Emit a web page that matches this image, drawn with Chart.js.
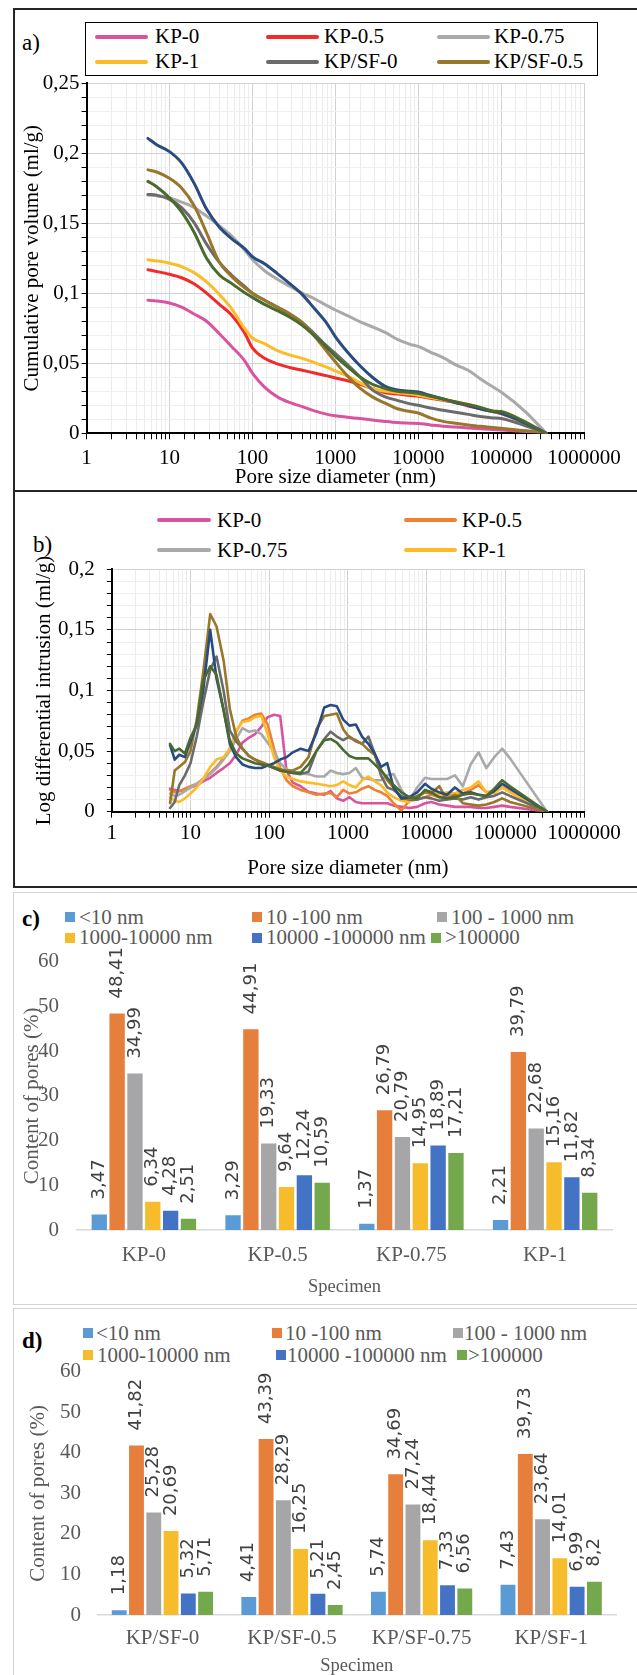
<!DOCTYPE html>
<html>
<head>
<meta charset="utf-8">
<script src="https://cdn.jsdelivr.net/npm/chart.js@4.4.1/dist/chart.umd.min.js"></script>
<style>
  html, body { margin: 0; padding: 0; background: #fff; }
  body { width: 637px; height: 1675px; position: relative; overflow: hidden; font-family: 'Liberation Serif', serif; }
  .frame { position: absolute; box-sizing: border-box; }
  canvas { position: absolute; left: 0; }
  .tag { position: absolute; font-size: 23px; line-height: 1; color: #000; }
  .lg { position: absolute; font-size: 21px; line-height: 1; white-space: nowrap; }
  .ln { position: absolute; height: 4px; border-radius: 2px; }
  .sq { position: absolute; width: 10px; height: 10px; }
</style>
</head>
<body>

<!-- panel frames -->
<div class="frame" style="left:13px; top:8px; width:640px; height:484px; border:2px solid #262626;"></div>
<div class="frame" style="left:13px; top:490px; width:640px; height:398px; border:2px solid #262626;"></div>
<div class="frame" style="left:13px; top:892px; width:640px; height:413px; border:1.5px solid #d4d4d4;"></div>
<div class="frame" style="left:13px; top:1308px; width:640px; height:380px; border:1.5px solid #d4d4d4;"></div>

<!-- panel a legend -->
<div class="tag" style="left:22px; top:31px;">a)</div>
<div class="frame" style="left:85px; top:22px; width:513px; height:54px; border:1.5px solid #000;"></div>
<div class="ln" style="left:95px; width:53px; top:34.5px; background:#D9539F;"></div>
<div class="lg" style="left:155px; top:26px;">KP-0</div>
<div class="ln" style="left:266px; width:53px; top:34.5px; background:#F32A2A;"></div>
<div class="lg" style="left:324px; top:26px;">KP-0.5</div>
<div class="ln" style="left:437px; width:53px; top:34.5px; background:#A9A9A9;"></div>
<div class="lg" style="left:494px; top:26px;">KP-0.75</div>
<div class="ln" style="left:95px; width:53px; top:59.5px; background:#FBBC27;"></div>
<div class="lg" style="left:155px; top:51px;">KP-1</div>
<div class="ln" style="left:266px; width:53px; top:59.5px; background:#6B6B6B;"></div>
<div class="lg" style="left:324px; top:51px;">KP/SF-0</div>
<div class="ln" style="left:437px; width:53px; top:59.5px; background:#98762A;"></div>
<div class="lg" style="left:494px; top:51px;">KP/SF-0.5</div>

<!-- panel b legend -->
<div class="tag" style="left:33px; top:533px;">b)</div>
<div class="ln" style="left:157px; width:54px; top:518px; background:#D9539F;"></div>
<div class="lg" style="left:217px; top:509.5px;">KP-0</div>
<div class="ln" style="left:404px; width:53px; top:518px; background:#F08133;"></div>
<div class="lg" style="left:462px; top:509.5px;">KP-0.5</div>
<div class="ln" style="left:157px; width:54px; top:548px; background:#A9A9A9;"></div>
<div class="lg" style="left:217px; top:539.5px;">KP-0.75</div>
<div class="ln" style="left:404px; width:53px; top:548px; background:#FBBC27;"></div>
<div class="lg" style="left:462px; top:539.5px;">KP-1</div>

<!-- panel c legend -->
<div class="tag" style="left:22px; top:907px; font-weight:bold;">c)</div>
<div class="sq" style="left:65px; top:912px; background:#5B9BD5;"></div>
<div class="lg" style="left:79px; top:906.5px; color:#595959;">&lt;10 nm</div>
<div class="sq" style="left:252px; top:912px; background:#E67E3C;"></div>
<div class="lg" style="left:266px; top:906.5px; color:#595959;">10 -100 nm</div>
<div class="sq" style="left:437px; top:912px; background:#A6A6A8;"></div>
<div class="lg" style="left:451px; top:906.5px; color:#595959;">100 - 1000 nm</div>
<div class="sq" style="left:65px; top:933px; background:#F6BC2C;"></div>
<div class="lg" style="left:79px; top:927px; color:#595959;">1000-10000 nm</div>
<div class="sq" style="left:252px; top:933px; background:#4472C4;"></div>
<div class="lg" style="left:266px; top:927px; color:#595959;">10000 -100000 nm</div>
<div class="sq" style="left:431px; top:933px; background:#74A84C;"></div>
<div class="lg" style="left:445px; top:927px; color:#595959;">&gt;100000</div>

<!-- panel d legend -->
<div class="tag" style="left:22px; top:1329px; font-weight:bold;">d)</div>
<div class="sq" style="left:83px; top:1328px; background:#5B9BD5;"></div>
<div class="lg" style="left:96px; top:1322.5px; color:#595959;">&lt;10 nm</div>
<div class="sq" style="left:272px; top:1328px; background:#E67E3C;"></div>
<div class="lg" style="left:285px; top:1322.5px; color:#595959;">10 -100 nm</div>
<div class="sq" style="left:453px; top:1328px; background:#A6A6A8;"></div>
<div class="lg" style="left:464px; top:1322.5px; color:#595959;">100 - 1000 nm</div>
<div class="sq" style="left:83px; top:1350px; background:#F6BC2C;"></div>
<div class="lg" style="left:97px; top:1344.5px; color:#595959;">1000-10000 nm</div>
<div class="sq" style="left:276px; top:1350px; background:#4472C4;"></div>
<div class="lg" style="left:287px; top:1344.5px; color:#595959;">10000 -100000 nm</div>
<div class="sq" style="left:457px; top:1350px; background:#74A84C;"></div>
<div class="lg" style="left:468px; top:1344.5px; color:#595959;">&gt;100000</div>

<canvas id="chartA" width="637" height="492" style="top:0px;"></canvas>
<canvas id="chartB" width="637" height="396" style="top:492px;"></canvas>
<canvas id="chartC" width="637" height="413" style="top:892px;"></canvas>
<canvas id="chartD" width="637" height="367" style="top:1308px;"></canvas>

<script>
// a) cumulative pore volume (ml/g) vs pore diameter (nm)
const poreDiameterA = [5.5, 7, 10, 14, 20, 28, 40, 56, 80, 100, 140, 200, 280, 400, 560, 800, 1000, 1400, 2000, 2800,
  4000, 5600, 8000, 10000, 14000, 20000, 28000, 40000, 56000, 80000, 100000, 200000, 350000];
const cumKP0 = [0.095, 0.0945, 0.093, 0.090, 0.085, 0.080, 0.071, 0.062, 0.052, 0.043, 0.033, 0.026, 0.022, 0.019, 0.016,
  0.0135, 0.0125, 0.0115, 0.0105, 0.0095, 0.0085, 0.0077, 0.0072, 0.007, 0.006, 0.005, 0.0045, 0.0038, 0.0032, 0.0027, 0.0024, 0.0012, 0];
const cumKP05 = [0.1167, 0.1155, 0.1135, 0.111, 0.1065, 0.1, 0.092, 0.0845, 0.072, 0.061, 0.0535, 0.0495, 0.047, 0.045, 0.043,
  0.041, 0.0395, 0.0375, 0.035, 0.032, 0.029, 0.028, 0.027, 0.0265, 0.025, 0.0235, 0.022, 0.0195, 0.0175, 0.0155, 0.014, 0.007, 0];
const cumKP075 = [0.170, 0.1695, 0.168, 0.165, 0.161, 0.155, 0.148, 0.141, 0.131, 0.124, 0.116, 0.110, 0.105, 0.1, 0.096,
  0.091, 0.088, 0.084, 0.0795, 0.076, 0.072, 0.067, 0.0635, 0.062, 0.058, 0.054, 0.049, 0.045, 0.039, 0.033, 0.0295, 0.015, 0];
const cumKP1 = [0.1238, 0.123, 0.1214, 0.119, 0.1145, 0.108, 0.099, 0.089, 0.075, 0.068, 0.064, 0.059, 0.056, 0.0535, 0.0505,
  0.047, 0.0445, 0.041, 0.036, 0.032, 0.030, 0.029, 0.028, 0.0272, 0.0255, 0.024, 0.0225, 0.0205, 0.018, 0.0155, 0.0143, 0.0072, 0];
const cumSF0 = [0.1705, 0.170, 0.167, 0.161, 0.150, 0.135, 0.122, 0.113, 0.105, 0.100, 0.095, 0.090, 0.085, 0.079, 0.071,
  0.062, 0.057, 0.049, 0.040, 0.031, 0.026, 0.0235, 0.021, 0.020, 0.018, 0.0165, 0.015, 0.0135, 0.012, 0.011, 0.0105, 0.0052, 0];
const cumSF05 = [0.188, 0.1865, 0.182, 0.175, 0.162, 0.143, 0.122, 0.112, 0.104, 0.100, 0.095, 0.090, 0.0855, 0.079, 0.0695,
  0.058, 0.051, 0.041, 0.032, 0.026, 0.0215, 0.0175, 0.0155, 0.0145, 0.011, 0.0085, 0.0072, 0.006, 0.005, 0.0042, 0.0036, 0.0018, 0];
const cumSF075 = [0.2105, 0.206, 0.201, 0.193, 0.178, 0.160, 0.147, 0.139, 0.132, 0.126, 0.121, 0.114, 0.107, 0.099, 0.089,
  0.078, 0.069, 0.058, 0.048, 0.040, 0.0335, 0.031, 0.030, 0.0295, 0.027, 0.0245, 0.022, 0.020, 0.0175, 0.0155, 0.0143, 0.0071, 0];
const cumSF1 = [0.1798, 0.176, 0.168, 0.158, 0.143, 0.125, 0.113, 0.107, 0.1005, 0.097, 0.092, 0.0875, 0.083, 0.077, 0.0695,
  0.061, 0.055, 0.0475, 0.040, 0.035, 0.032, 0.030, 0.0292, 0.0285, 0.0265, 0.0245, 0.0225, 0.0205, 0.0185, 0.016, 0.0155, 0.0078, 0];

// b) log differential intrusion (ml/g)
const poreDiameterB = [5.5, 6.3, 7.2, 8.5, 10, 12, 14.5, 17.8, 21.4, 26.3, 31.6, 38, 45.7, 55, 66, 79.4, 95.5, 115, 138, 166,
  200, 251, 316, 398, 501, 603, 724, 871, 1047, 1259, 1514, 1820, 2188, 2630, 3162, 3802, 4786, 6026, 7586, 9550,
  11480, 14450, 18200, 22900, 28840, 36300, 45700, 57500, 72400, 91200, 114800, 338800];
const logKP0 = [0.019, 0.018, 0.017, 0.018, 0.02, 0.022, 0.025, 0.028, 0.032, 0.036, 0.040, 0.047, 0.057, 0.061, 0.064, 0.070, 0.078, 0.080, 0.079, 0.034,
  0.024, 0.021, 0.0165, 0.015, 0.014, 0.017, 0.011, 0.009, 0.012, 0.008, 0.007, 0.007, 0.007, 0.007, 0.007, 0.005, 0.004, 0.003, 0.004, 0.007,
  0.008, 0.006, 0.005, 0.004, 0.004, 0.004, 0.003, 0.003, 0.004, 0.005, 0.004, 0];
const logKP05 = [0.018, 0.016, 0.017, 0.019, 0.021, 0.023, 0.027, 0.032, 0.037, 0.044, 0.052, 0.066, 0.075, 0.077, 0.08, 0.081, 0.072, 0.052, 0.036, 0.026,
  0.021, 0.018, 0.016, 0.014, 0.015, 0.0155, 0.012, 0.018, 0.015, 0.016, 0.019, 0.021, 0.018, 0.016, 0.013, 0.007, 0.001, 0.009, 0.01, 0.012,
  0.014, 0.012, 0.013, 0.014, 0.015, 0.018, 0.022, 0.016, 0.017, 0.02, 0.017, 0];
const logKP075 = [0.015, 0.013, 0.014, 0.017, 0.02, 0.023, 0.027, 0.031, 0.036, 0.043, 0.05, 0.06, 0.069, 0.066, 0.067, 0.064, 0.057, 0.05, 0.04, 0.035,
  0.033, 0.032, 0.031, 0.029, 0.029, 0.034, 0.032, 0.031, 0.032, 0.036, 0.028, 0.027, 0.026, 0.026, 0.03, 0.031, 0.018, 0.009, 0.02, 0.028,
  0.027, 0.027, 0.027, 0.03, 0.021, 0.039, 0.049, 0.036, 0.045, 0.052, 0.044, 0];
const logKP1 = [0.012, 0.009, 0.008, 0.011, 0.015, 0.02, 0.027, 0.037, 0.043, 0.045, 0.052, 0.067, 0.074, 0.075, 0.078, 0.079, 0.064, 0.045, 0.034, 0.029,
  0.027, 0.025, 0.024, 0.023, 0.022, 0.021, 0.022, 0.025, 0.022, 0.02, 0.026, 0.029, 0.025, 0.022, 0.016, 0.012, 0.009, 0.008, 0.012, 0.016,
  0.017, 0.014, 0.016, 0.015, 0.018, 0.02, 0.025, 0.016, 0.015, 0.02, 0.016, 0];
const logSF0 = [0.003, 0.008, 0.022, 0.03, 0.04, 0.062, 0.09, 0.117, 0.128, 0.1, 0.067, 0.058, 0.052, 0.046, 0.043, 0.04, 0.038, 0.036, 0.034, 0.033,
  0.032, 0.031, 0.033, 0.05, 0.06, 0.066, 0.062, 0.059, 0.062, 0.058, 0.056, 0.062, 0.048, 0.03, 0.02, 0.018, 0.013, 0.01, 0.01, 0.012,
  0.011, 0.009, 0.01, 0.011, 0.01, 0.012, 0.01, 0.012, 0.013, 0.016, 0.013, 0];
const logSF05 = [0.007, 0.034, 0.037, 0.041, 0.05, 0.076, 0.115, 0.163, 0.153, 0.125, 0.085, 0.062, 0.052, 0.046, 0.043, 0.041, 0.039, 0.037, 0.035, 0.034,
  0.034, 0.037, 0.045, 0.068, 0.079, 0.08, 0.081, 0.068, 0.061, 0.059, 0.056, 0.051, 0.047, 0.035, 0.026, 0.02, 0.011, 0.01, 0.013, 0.016,
  0.015, 0.021, 0.01, 0.014, 0.007, 0.006, 0.005, 0.006, 0.008, 0.011, 0.008, 0];
const logSF075 = [0.055, 0.043, 0.047, 0.045, 0.058, 0.072, 0.1, 0.15, 0.11, 0.084, 0.056, 0.045, 0.039, 0.037, 0.036, 0.036, 0.038, 0.04, 0.043, 0.045,
  0.049, 0.052, 0.05, 0.065, 0.086, 0.088, 0.087, 0.076, 0.071, 0.072, 0.062, 0.056, 0.048, 0.037, 0.04, 0.02, 0.011, 0.012, 0.016, 0.023,
  0.019, 0.016, 0.014, 0.02, 0.015, 0.016, 0.014, 0.013, 0.017, 0.023, 0.019, 0];
const logSF1 = [0.056, 0.05, 0.052, 0.048, 0.061, 0.072, 0.108, 0.12, 0.113, 0.084, 0.059, 0.048, 0.044, 0.042, 0.04, 0.039, 0.038, 0.036, 0.034, 0.033,
  0.032, 0.032, 0.039, 0.05, 0.059, 0.06, 0.057, 0.051, 0.046, 0.044, 0.044, 0.044, 0.039, 0.034, 0.028, 0.022, 0.016, 0.012, 0.011, 0.018,
  0.016, 0.012, 0.011, 0.012, 0.014, 0.015, 0.014, 0.013, 0.019, 0.026, 0.021, 0];

// c) and d) content of pores (%) per size range
const specimensKP = ['KP-0', 'KP-0.5', 'KP-0.75', 'KP-1'];
const specimensSF = ['KP/SF-0', 'KP/SF-0.5', 'KP/SF-0.75', 'KP/SF-1'];
const rangeLabels = ['<10 nm', '10 -100 nm', '100 - 1000 nm', '1000-10000 nm', '10000 -100000 nm', '>100000'];
const kpBelow10 = [3.47, 3.29, 1.37, 2.21];
const kp10to100 = [48.41, 44.91, 26.79, 39.79];
const kp100to1000 = [34.99, 19.33, 20.79, 22.68];
const kp1000to10000 = [6.34, 9.64, 14.95, 15.16];
const kp10000to100000 = [4.28, 12.24, 18.89, 11.82];
const kpAbove100000 = [2.51, 10.59, 17.21, 8.34];
const sfBelow10 = [1.18, 4.41, 5.74, 7.43];
const sf10to100 = [41.82, 43.39, 34.69, 39.73];
const sf100to1000 = [25.28, 28.29, 27.24, 23.64];
const sf1000to10000 = [20.69, 16.25, 18.44, 14.01];
const sf10000to100000 = [5.32, 5.21, 7.33, 6.99];
const sfAbove100000 = [5.71, 2.45, 6.56, 8.2];

Chart.defaults.font.family = "'Liberation Serif', serif";

const lineColors = ['#D9539F', '#F32A2A', '#A9A9A9', '#FBBC27', '#6B6B6B', '#98762A', '#2A4B82', '#4A6B2F'];
const lineColorsB = ['#D9539F', '#F08133', '#A9A9A9', '#FBBC27', '#6B6B6B', '#98762A', '#2A4B82', '#4A6B2F'];
const seriesNames = ['KP-0', 'KP-0.5', 'KP-0.75', 'KP-1', 'KP/SF-0', 'KP/SF-0.5', 'KP/SF-0.75', 'KP/SF-1'];
const barColors = ['#5B9BD5', '#E67E3C', '#A6A6A8', '#F6BC2C', '#4472C4', '#74A84C'];

function toPoints(xs, ys) {
  return xs.map((x, i) => ({ x: x, y: ys[i] }));
}
function isDecade(v) {
  const l = Math.log10(v);
  return Math.abs(l - Math.round(l)) < 1e-9;
}
function commaNum(v) {
  return String(v).replace('.', ',');
}

function lineChart(id, xs, ys, colors, opt) {
  return new Chart(document.getElementById(id), {
    type: 'line',
    data: {
      datasets: ys.map((vals, i) => ({
        label: seriesNames[i],
        data: toPoints(xs, vals),
        borderColor: colors[i],
        backgroundColor: colors[i],
        borderWidth: opt.lineWidth,
        pointRadius: 0,
        fill: false,
        tension: opt.smooth ? 0.4 : 0,
        cubicInterpolationMode: opt.smooth ? 'monotone' : 'default',
        borderJoinStyle: 'round',
        borderCapStyle: 'round',
        order: ys.length - i
      }))
    },
    options: {
      responsive: false,
      animation: false,
      layout: { padding: { left: 0, right: opt.right, top: opt.top, bottom: 0 } },
      plugins: { legend: { display: false }, tooltip: { enabled: false } },
      scales: {
        x: {
          type: 'logarithmic',
          min: 1,
          max: 1000000,
          afterFit: (s) => { s.height = opt.xHeight; },
          border: { color: '#000', width: 2 },
          grid: {
            color: (c) => (c.tick && isDecade(c.tick.value)) ? '#d2d2d2' : '#ececec',
            tickColor: '#000',
            tickLength: 6
          },
          ticks: {
            autoSkip: false,
            maxRotation: 0,
            padding: opt.xTickPad,
            color: '#000',
            font: { size: 21, lineHeight: 1 },
            callback: (v) => isDecade(v) ? String(v) : ''
          },
          title: {
            display: true,
            text: 'Pore size diameter (nm)',
            color: '#000',
            font: { size: 21, lineHeight: 1 },
            padding: { top: 0, bottom: opt.xTitlePad }
          }
        },
        y: {
          min: 0,
          max: opt.yMax,
          afterFit: (s) => { s.width = opt.yWidth; },
          border: { color: '#000', width: 2 },
          grid: {
            color: (c) => (c.tick && Math.round(c.tick.value * 100) % 5 === 0) ? '#d2d2d2' : '#efefef',
            tickColor: '#000',
            tickLength: 5
          },
          ticks: {
            stepSize: 0.01,
            autoSkip: false,
            padding: opt.yTickPad,
            color: '#000',
            font: { size: 21, lineHeight: 1 },
            callback: (v) => {
              const r = Math.round(v * 100);
              return r % 5 === 0 ? commaNum(r / 100) : '';
            }
          },
          title: {
            display: true,
            text: opt.yTitle,
            color: '#000',
            font: { size: 21, lineHeight: 1 },
            padding: { top: opt.yTitlePad, bottom: 0 }
          }
        }
      }
    }
  });
}

lineChart('chartA', poreDiameterA,
  [cumKP0, cumKP05, cumKP075, cumKP1, cumSF0, cumSF05, cumSF075, cumSF1], lineColors, {
    smooth: true, lineWidth: 3, right: 53, top: 83, xHeight: 58.7, yWidth: 86.6, yMax: 0.25,
    xTickPad: 9, xTitlePad: 4.5, yTickPad: 2, yTitlePad: 22, yTitle: 'Cumulative pore volume (ml/g)'
  });

lineChart('chartB', poreDiameterB,
  [logKP0, logKP05, logKP075, logKP1, logSF0, logSF05, logSF075, logSF1], lineColorsB, {
    smooth: false, lineWidth: 2.6, right: 53, top: 77.3, xHeight: 76.3, yWidth: 111.8, yMax: 0.2,
    xTickPad: 5.5, xTitlePad: 9.5, yTickPad: 12, yTitlePad: 34, yTitle: 'Log differential intrusion (ml/g)'
  });

// value labels written upward above each bar
const rotatedValueLabels = {
  id: 'rotatedValueLabels',
  afterDatasetsDraw(chart) {
    const ctx = chart.ctx;
    ctx.save();
    ctx.font = '18px "DejaVu Sans"';
    ctx.fillStyle = '#404040';
    ctx.textAlign = 'left';
    ctx.textBaseline = 'middle';
    chart.data.datasets.forEach((ds, i) => {
      chart.getDatasetMeta(i).data.forEach((bar, j) => {
        ctx.save();
        ctx.translate(bar.x, bar.y - 15);
        ctx.rotate(-Math.PI / 2);
        ctx.fillText(commaNum(ds.data[j]), 0, 0);
        ctx.restore();
      });
    });
    ctx.restore();
  }
};

function barChart(id, cats, groups, opt) {
  return new Chart(document.getElementById(id), {
    type: 'bar',
    data: {
      labels: cats,
      datasets: groups.map((vals, i) => ({
        label: rangeLabels[i],
        data: vals,
        backgroundColor: barColors[i],
        categoryPercentage: 0.8,
        barPercentage: 0.86
      }))
    },
    options: {
      responsive: false,
      animation: false,
      layout: { padding: { left: 0, right: opt.right, top: opt.top, bottom: 0 } },
      plugins: { legend: { display: false }, tooltip: { enabled: false } },
      scales: {
        x: {
          afterFit: (s) => { s.height = opt.xHeight; },
          grid: { display: false, drawTicks: false },
          border: { color: '#d9d9d9', width: 1.5 },
          ticks: { color: '#595959', padding: opt.xTickPad, font: { size: 21, lineHeight: 1 } },
          title: {
            display: true,
            text: 'Specimen',
            color: '#595959',
            font: { size: 18.5, lineHeight: 1 },
            padding: { top: 0, bottom: opt.xTitlePad }
          }
        },
        y: {
          min: 0,
          max: 60,
          afterFit: (s) => { s.width = opt.yWidth; },
          grid: { display: false, drawTicks: false },
          border: { display: false },
          ticks: { stepSize: 10, color: '#595959', padding: opt.yTickPad, font: { size: 21, lineHeight: 1 } },
          title: {
            display: true,
            text: 'Content of pores (%)',
            color: '#595959',
            font: { size: 21, lineHeight: 1 },
            padding: { top: opt.yTitlePad, bottom: 0 }
          }
        }
      }
    },
    plugins: [rotatedValueLabels]
  });
}

barChart('chartC', specimensKP,
  [kpBelow10, kp10to100, kp100to1000, kp1000to10000, kp10000to100000, kpAbove100000], {
    right: 25, top: 69.7, xHeight: 75, yWidth: 77, xTickPad: 15, xTitlePad: 8.5, yTickPad: 18, yTitlePad: 22
  });

barChart('chartD', specimensSF,
  [sfBelow10, sf10to100, sf100to1000, sf1000to10000, sf10000to100000, sfAbove100000], {
    right: 21, top: 63.7, xHeight: 60, yWidth: 97.6, xTickPad: 13, xTitlePad: 0, yTickPad: 16.5, yTitlePad: 28
  });
</script>
</body>
</html>
